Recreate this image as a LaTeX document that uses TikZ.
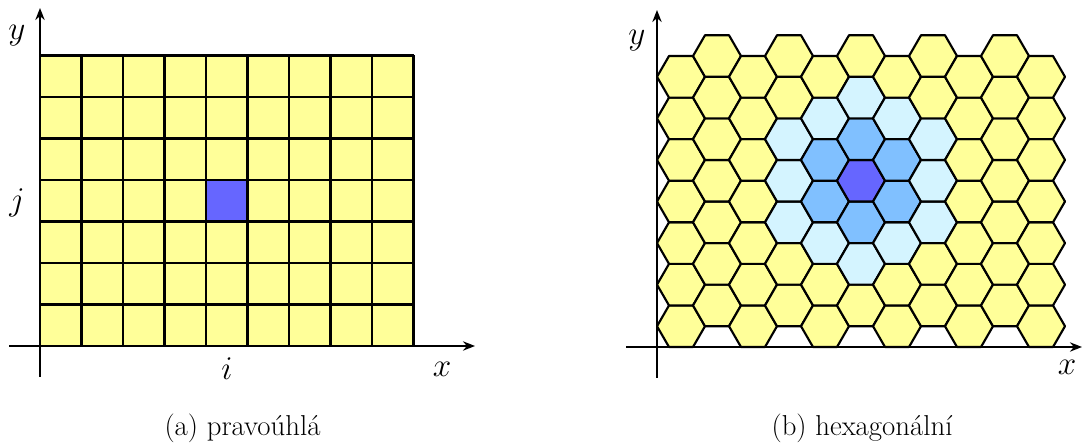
\documentclass[tikz,border=0pt]{standalone}
\usepackage{fontspec}
\usetikzlibrary{arrows.meta}

\definecolor{cellyellow}{RGB}{255,255,153}
\definecolor{hexc0}{RGB}{102,102,255}
\definecolor{hexc1}{RGB}{128,192,255}
\definecolor{hexc2}{RGB}{212,244,255}
\definecolor{hexc3}{RGB}{255,255,153}

\tikzset{every picture/.style={line width=0.75pt},
  gridline/.style={draw=black, line width=1.6pt},
  hexcell/.style={draw=black, line width=1.6pt, line join=round},
  axis/.style={draw=black, line width=1.6pt, -{Stealth[length=9pt,width=7pt]}},
  lbl/.style={inner sep=0.75pt, font=\fontsize{24}{28}\selectfont},
  capt/.style={inner sep=0.75pt, anchor=base, font=\fontsize{21.6}{26}\selectfont}}

\begin{document}
\begin{tikzpicture}[x=0.75pt,y=0.75pt,yscale=-1,xscale=1]
\useasboundingbox (0,0) rectangle (1083,445);

%Shape: Square grid
\fill[cellyellow] (40,55.5) rectangle (413.5,346);
\fill[hexc0] (206,221.5) rectangle (247.5,180);
\foreach \i in {0,...,9} \draw[gridline] ({40+41.5*\i},55.5) -- ({40+41.5*\i},346);
\foreach \j in {0,...,7} \draw[gridline] (40,{346-41.5*\j}) -- (413.5,{346-41.5*\j});

%Shape: Hexagonal grid
\foreach \c in {0,...,10}
  \foreach \r in {0,...,6} {
    \pgfmathsetmacro\hx{681+36*\c}
    \pgfmathsetmacro\hy{326.22-41.57*\r-20.78*mod(\c,2)}
    \pgfmathtruncatemacro\hd{min(3,abs(\c-5)+max(0,abs(\r+0.5*mod(\c,2)-3.5)-abs(\c-5)/2))}
    \draw[hexcell, fill=hexc\hd] (\hx+24,\hy) -- (\hx+12,\hy-20.78) -- (\hx-12,\hy-20.78)
      -- (\hx-24,\hy) -- (\hx-12,\hy+20.78) -- (\hx+12,\hy+20.78) -- cycle;
  }

%Shape: Axis 2D
\draw[axis] (9,346) -- (475,346);
\draw[axis] (40,377) -- (40,8);
%Shape: Axis 2D
\draw[axis] (626,347) -- (1082,347);
\draw[axis] (657,378) -- (657,10);

% Text Node
\node[lbl] (yA) at (17,36) {$y$};
\node[lbl] (jA) at (17,203) {$j$};
\node[lbl] (iA) at (227,369) {$i$};
\node[lbl] (xA) at (442,369) {$x$};
\node[lbl] (yB) at (637,41) {$y$};
\node[lbl] (xB) at (1067,367) {$x$};
% Text Node
\node[capt] (captA) at (242.5,435.5) {(a) pravoúhlá};
\node[capt] (captB) at (862,435.5) {(b) hexagonální};

\end{tikzpicture}
\end{document}
